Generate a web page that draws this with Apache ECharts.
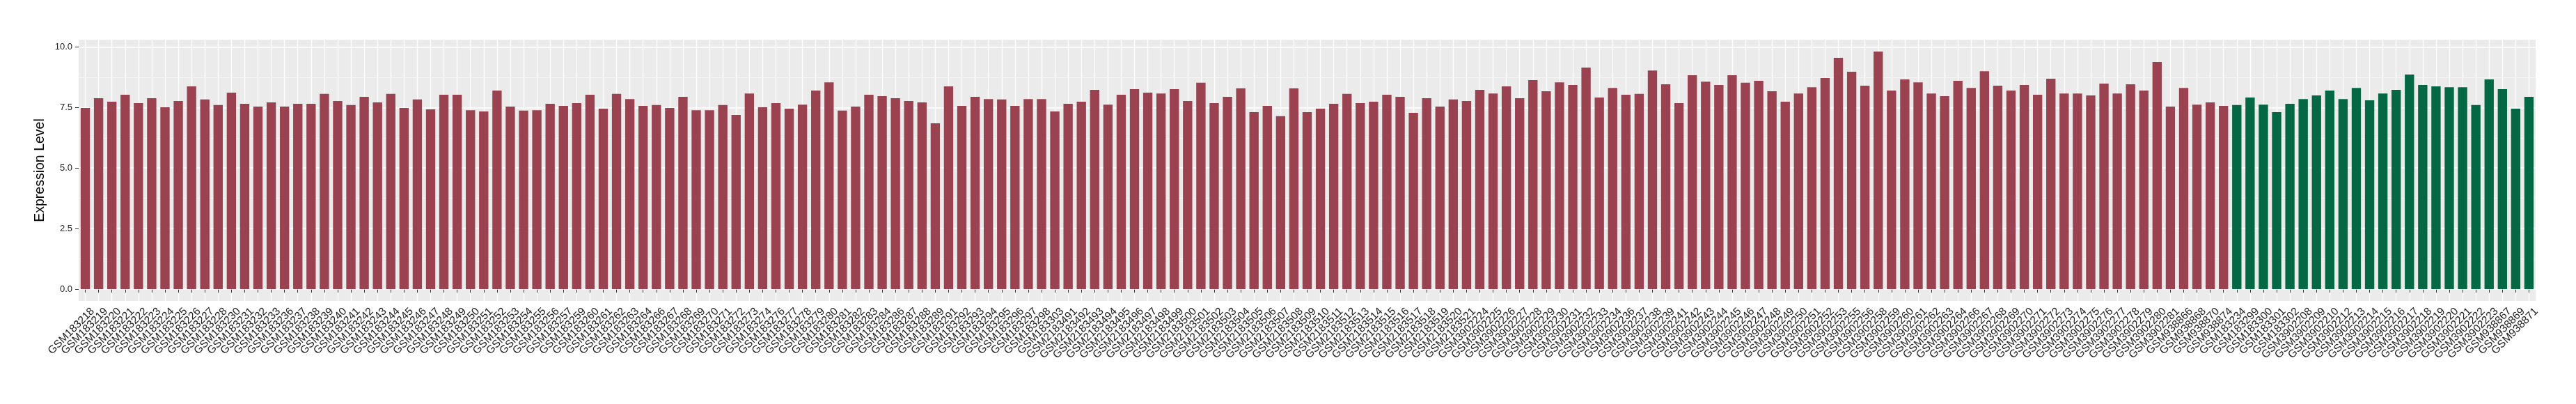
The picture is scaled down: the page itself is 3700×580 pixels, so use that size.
<!DOCTYPE html>
<html>
<head>
<meta charset="utf-8">
<script src="https://cdn.jsdelivr.net/npm/echarts@6/dist/echarts.min.js"></script>
<style>
html,body{margin:0;padding:0;background:#fff;}
#chart{width:3700px;height:580px;}
</style>
</head>
<body>
<div id="chart"></div>
<script>
// Group 1 (red bars)
const groupACategories = [
"GSM183218","GSM183219","GSM183220","GSM183221","GSM183222","GSM183223","GSM183224","GSM183225","GSM183226","GSM183227",
"GSM183228","GSM183230","GSM183231","GSM183232","GSM183233","GSM183236","GSM183237","GSM183238","GSM183239","GSM183240",
"GSM183241","GSM183242","GSM183243","GSM183244","GSM183245","GSM183246","GSM183247","GSM183248","GSM183249","GSM183250",
"GSM183251","GSM183252","GSM183253","GSM183254","GSM183255","GSM183256","GSM183257","GSM183259","GSM183260","GSM183261",
"GSM183262","GSM183263","GSM183264","GSM183266","GSM183267","GSM183268","GSM183269","GSM183270","GSM183271","GSM183272",
"GSM183273","GSM183274","GSM183276","GSM183277","GSM183278","GSM183279","GSM183280","GSM183281","GSM183282","GSM183283",
"GSM183284","GSM183286","GSM183287","GSM183288","GSM183289","GSM183291","GSM183292","GSM183293","GSM183294","GSM183295",
"GSM183296","GSM183297","GSM183298","GSM183303",
"GSM2183491","GSM2183492","GSM2183493","GSM2183494","GSM2183495","GSM2183496","GSM2183497","GSM2183498","GSM2183499","GSM2183500",
"GSM2183501","GSM2183502","GSM2183503","GSM2183504","GSM2183505","GSM2183506","GSM2183507","GSM2183508","GSM2183509","GSM2183510",
"GSM2183511","GSM2183512","GSM2183513","GSM2183514","GSM2183515","GSM2183516","GSM2183517","GSM2183518","GSM2183519","GSM2183520",
"GSM2183521",
"GSM3902224","GSM3902225","GSM3902226","GSM3902227","GSM3902228","GSM3902229","GSM3902230","GSM3902231","GSM3902232","GSM3902233",
"GSM3902234","GSM3902236","GSM3902237","GSM3902238","GSM3902239","GSM3902241","GSM3902242","GSM3902243","GSM3902244","GSM3902245",
"GSM3902246","GSM3902247","GSM3902248","GSM3902249","GSM3902250","GSM3902251","GSM3902252","GSM3902253","GSM3902255","GSM3902256",
"GSM3902258","GSM3902259","GSM3902260","GSM3902261","GSM3902262","GSM3902263","GSM3902264","GSM3902266","GSM3902267","GSM3902268",
"GSM3902269","GSM3902270","GSM3902271","GSM3902272","GSM3902273","GSM3902274","GSM3902275","GSM3902276","GSM3902277","GSM3902278",
"GSM3902279","GSM3902280","GSM3902281",
"GSM938866","GSM938868","GSM938870","GSM938874"
];
const groupAValues = [
7.48,7.88,7.74,8.03,7.68,7.88,7.51,7.77,8.37,7.83,
7.60,8.11,7.65,7.54,7.71,7.54,7.65,7.65,8.06,7.77,
7.60,7.94,7.71,8.06,7.48,7.83,7.42,8.03,8.03,7.39,
7.34,8.20,7.54,7.37,7.39,7.65,7.57,7.68,8.03,7.45,
8.06,7.85,7.57,7.60,7.48,7.94,7.39,7.39,7.60,7.19,
8.08,7.51,7.68,7.45,7.62,8.20,8.54,7.37,7.54,8.03,
7.97,7.88,7.77,7.71,6.85,8.37,7.57,7.94,7.85,7.83,
7.57,7.85,7.85,7.34,7.65,7.74,8.23,7.62,8.03,8.26,
8.11,8.08,8.26,7.77,8.52,7.68,7.94,8.29,7.31,7.57,
7.14,8.29,7.31,7.45,7.65,8.06,7.68,7.74,8.03,7.94,
7.28,7.88,7.54,7.83,7.77,8.23,8.08,8.37,7.88,8.63,
8.17,8.54,8.43,9.15,7.91,8.31,8.03,8.06,9.03,8.46,
7.68,8.83,8.57,8.43,8.83,8.52,8.60,8.17,7.74,8.08,
8.34,8.72,9.55,8.98,8.40,9.81,8.20,8.66,8.54,8.08,
7.97,8.60,8.31,9.00,8.40,8.20,8.43,8.03,8.69,8.08,
8.08,8.00,8.49,8.08,8.46,8.20,9.38,7.54,8.31,7.62,
7.71,7.57
];
// Group 2 (green bars)
const groupBCategories = [
"GSM183234","GSM183299","GSM183300","GSM183301","GSM183302",
"GSM3902208","GSM3902209","GSM3902210","GSM3902212","GSM3902213","GSM3902214","GSM3902215","GSM3902216","GSM3902217","GSM3902218",
"GSM3902219","GSM3902220","GSM3902221","GSM3902222","GSM3902223",
"GSM938867","GSM938869","GSM938871"
];
const groupBValues = [
7.60,7.91,7.62,7.31,7.65,
7.85,8.00,8.20,7.85,8.31,7.80,8.08,8.23,8.86,8.43,
8.37,8.34,8.34,7.60,8.66,
8.26,7.45,7.94
];
const yTickValues = [0, 2.5, 5, 7.5, 10];
const yMinorValues = [1.25, 3.75, 6.25, 8.75];
const yAxisTitle = "Expression Level";

const colorA = "#9A4250";
const colorB = "#036843";

const categories = groupACategories.concat(groupBCategories);
const barData = groupAValues.map(v => ({value: v, itemStyle: {color: colorA}}))
  .concat(groupBValues.map(v => ({value: v, itemStyle: {color: colorB}})));

const dataMax = Math.max(...groupAValues, ...groupBValues);
const yMin = -0.05 * dataMax;
const yMax = 1.05 * dataMax;

const gridLines = yMinorValues.map(v => ({yAxis: v, lineStyle: {color: '#F6F6F6', width: 0.9, type: 'solid'}}))
  .concat(yTickValues.map(v => ({yAxis: v, lineStyle: {color: '#FFFFFF', width: 1.7, type: 'solid'}})));

const chart = echarts.init(document.getElementById('chart'), null, {renderer: 'canvas'});
const font = "'Liberation Sans', Arial, Helvetica, sans-serif";

chart.setOption({
  animation: false,
  backgroundColor: '#ffffff',
  grid: {
    left: 113, right: 58, top: 57, bottom: 148,
    show: true, backgroundColor: '#EBEBEB', borderWidth: 0, borderColor: 'transparent',
    containLabel: false, outerBoundsMode: 'none'
  },
  xAxis: {
    type: 'category',
    data: categories,
    boundaryGap: true,
    axisLine: {show: false},
    axisTick: {show: true, alignWithLabel: true, interval: 0, length: 5, lineStyle: {color: '#333333', width: 1}},
    axisLabel: {
      interval: 0, rotate: 45, fontSize: 15.5, fontFamily: font, color: '#222222',
      margin: 2, padding: [7, 0, 0, 0], align: 'right', verticalAlign: 'top'
    },
    splitLine: {show: true, interval: 0, alignWithLabel: true, lineStyle: {color: '#FFFFFF', width: 1.4}}
  },
  yAxis: {
    type: 'value',
    min: yMin, max: yMax,
    name: yAxisTitle,
    nameLocation: 'middle',
    nameGap: 39,
    nameRotate: 90,
    nameTextStyle: {fontSize: 19.5, fontFamily: font, color: '#000000'},
    axisLine: {show: false},
    axisTick: {show: true, length: 5, customValues: yTickValues, lineStyle: {color: '#333333', width: 1}},
    axisLabel: {
      fontSize: 13, fontFamily: font, color: '#222222', margin: 9,
      customValues: yTickValues,
      formatter: v => Number(v).toFixed(1)
    },
    splitLine: {show: false}
  },
  series: [
    {
      type: 'bar',
      name: 'Expression',
      data: barData,
      barWidth: '70%',
      z: 2,
      markLine: {
        silent: true,
        z: 1,
        symbol: ['none', 'none'],
        label: {show: false},
        emphasis: {disabled: true},
        animation: false,
        data: gridLines
      }
    }
  ]
});
</script>
</body>
</html>
